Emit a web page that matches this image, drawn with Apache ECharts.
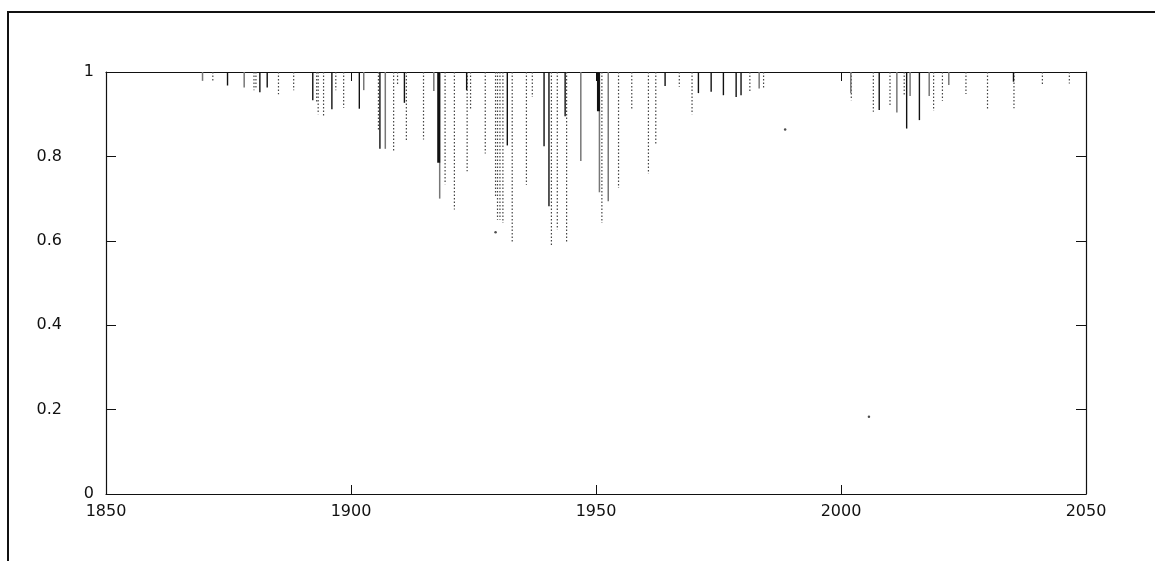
<!DOCTYPE html>
<html>
<head>
<meta charset="utf-8">
<script src="https://cdn.jsdelivr.net/npm/echarts@6/dist/echarts.min.js"></script>
<style>
  html, body { margin: 0; padding: 0; background: #fff; }
  #chart { width: 1155px; height: 561px; }
</style>
</head>
<body>
<div id="chart"></div>
<script>
// [year, value] – each spike hangs from 1 down to value
const solidBlack = [
  [1874.8, 0.968], [1881.4, 0.952], [1882.9, 0.963], [1892.2, 0.933], [1896.1, 0.912],
  [1901.7, 0.913], [1905.9, 0.818], [1910.9, 0.927], [1923.6, 0.957], [1931.9, 0.826],
  [1939.4, 0.824], [1940.4, 0.682], [1943.7, 0.895], [1964.1, 0.967], [1970.9, 0.95],
  [1973.5, 0.953], [1976.0, 0.945], [1978.6, 0.941], [1979.6, 0.945], [2007.8, 0.91],
  [2013.4, 0.866], [2016.0, 0.886], [2035.2, 0.977]
];
const solidGrey = [
  [1869.7, 0.979], [1878.2, 0.963], [1902.6, 0.957], [1907.0, 0.818], [1916.9, 0.955],
  [1918.1, 0.70], [1946.9, 0.789], [1950.7, 0.715], [1952.5, 0.694], [1983.3, 0.961],
  [2002.0, 0.95], [2011.4, 0.904], [2014.1, 0.943], [2018.0, 0.943], [2022.0, 0.969]
];
const thickBlack = [[1917.9, 0.785], [1950.5, 0.907]];
const dotted = [
  [1871.8, 0.979], [1880.2, 0.957], [1880.6, 0.962], [1885.2, 0.947], [1888.3, 0.957],
  [1893.0, 0.93], [1893.3, 0.90], [1894.4, 0.895], [1896.9, 0.957], [1898.5, 0.915],
  [1905.6, 0.864], [1908.7, 0.812], [1909.5, 0.967], [1911.3, 0.836], [1914.8, 0.84],
  [1919.2, 0.734], [1921.1, 0.674], [1923.7, 0.765], [1924.4, 0.91], [1927.4, 0.807],
  [1929.5, 0.705], [1929.9, 0.65], [1930.4, 0.65], [1931.0, 0.642], [1932.9, 0.595],
  [1935.8, 0.733], [1937.0, 0.941], [1940.9, 0.587], [1942.1, 0.626], [1944.0, 0.595],
  [1951.2, 0.642], [1954.6, 0.725], [1957.3, 0.911], [1960.7, 0.759], [1962.2, 0.83],
  [1967.0, 0.965], [1969.6, 0.90], [1981.4, 0.95], [1984.2, 0.963], [2002.1, 0.933],
  [2006.6, 0.906], [2010.0, 0.922], [2012.9, 0.946], [2018.9, 0.908], [2020.7, 0.932],
  [2025.5, 0.948], [2029.9, 0.91], [2035.3, 0.914], [2041.1, 0.971], [2046.6, 0.973]
];
const strayDots = [[1929.5, 0.62], [1988.6, 0.864], [2005.7, 0.183]];

const xTicks = [1850, 1900, 1950, 2000, 2050];
const yTicks = [0, 0.2, 0.4, 0.6, 0.8, 1];

const FONT = 'DejaVu Sans';

// draws a vertical line from y=1 down to the value, using the axis scales
function spike(style) {
  return function (params, api) {
    const top = api.coord([api.value(0), 1]);
    const bot = api.coord([api.value(0), api.value(1)]);
    return {
      type: 'line',
      shape: { x1: top[0], y1: top[1], x2: bot[0], y2: bot[1] },
      style: style
    };
  };
}

const chart = echarts.init(document.getElementById('chart'), null, { renderer: 'canvas' });

const baseX = {
  type: 'value',
  min: xTicks[0],
  max: xTicks[xTicks.length - 1],
  interval: 50,
  splitLine: { show: false },
  axisLine: { show: true, onZero: false, lineStyle: { color: '#111', width: 1.2 } },
  axisTick: { show: true, inside: true, length: 9, lineStyle: { color: '#111' } }
};
const baseY = {
  type: 'value',
  min: yTicks[0],
  max: yTicks[yTicks.length - 1],
  interval: 0.2,
  splitLine: { show: false },
  axisLine: { show: true, onZero: false, lineStyle: { color: '#111', width: 1.2 } },
  axisTick: { show: true, inside: true, length: 10, lineStyle: { color: '#111' } }
};

chart.setOption({
  animation: false,
  backgroundColor: '#fff',
  grid: { left: 106, right: 69, top: 72, bottom: 67 },
  graphic: [{
    type: 'rect',
    silent: true,
    shape: { x: 8, y: 12, width: 1200, height: 600 },
    style: { fill: 'none', stroke: '#111', lineWidth: 2 }
  }],
  xAxis: [
    Object.assign({}, baseX, {
      position: 'bottom',
      axisLabel: {
        margin: 10, color: '#111', fontFamily: FONT, fontSize: 16,
        showMinLabel: true, showMaxLabel: true,
        formatter: function (v) { return String(v); }
      }
    }),
    Object.assign({}, baseX, { position: 'top', axisLabel: { show: false } })
  ],
  yAxis: [
    Object.assign({}, baseY, {
      position: 'left',
      axisLabel: {
        margin: 12, color: '#111', fontFamily: FONT, fontSize: 16,
        formatter: function (v) {
          return (v === 0 || v === 1) ? '{w|' + v + '}' : '{f|' + v + '}';
        },
        rich: {
          w: { fontFamily: FONT, fontSize: 16, color: '#111' },
          f: { fontFamily: FONT, fontSize: 16, color: '#111', padding: [0, 32, 0, 0] }
        }
      }
    }),
    Object.assign({}, baseY, { position: 'right', axisLabel: { show: false } })
  ],
  series: [
    {
      type: 'custom', name: 'dotted', data: dotted, encode: { x: 0, y: 1 },
      renderItem: spike({ stroke: '#444', lineWidth: 1.2, lineDash: [1.5, 2] })
    },
    {
      type: 'custom', name: 'grey', data: solidGrey, encode: { x: 0, y: 1 },
      renderItem: spike({ stroke: '#777', lineWidth: 1.5 })
    },
    {
      type: 'custom', name: 'black', data: solidBlack, encode: { x: 0, y: 1 },
      renderItem: spike({ stroke: '#111', lineWidth: 1.4 })
    },
    {
      type: 'custom', name: 'thick', data: thickBlack, encode: { x: 0, y: 1 },
      renderItem: spike({ stroke: '#111', lineWidth: 3 })
    },
    {
      type: 'scatter', name: 'dots', data: strayDots, symbolSize: 2.5,
      itemStyle: { color: '#222' }
    }
  ]
});

window.addEventListener('resize', () => chart.resize());
</script>
</body>
</html>
